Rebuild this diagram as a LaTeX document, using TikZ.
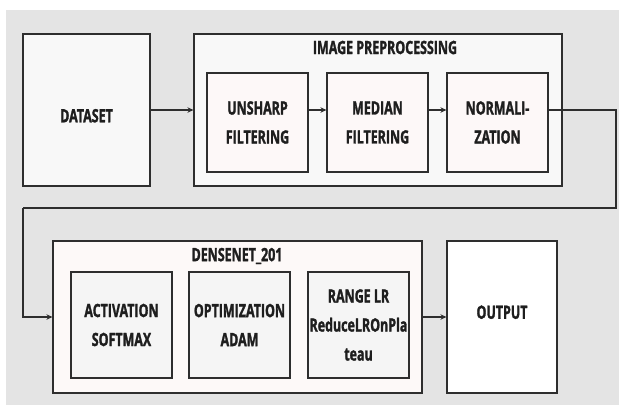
\documentclass[tikz,border=0pt]{standalone}
\usepackage{fontspec}
\setmainfont{Open Sans}[FakeStretch=0.68, FakeBold=1.5]
\usetikzlibrary{arrows.meta}

\definecolor{canvas}{HTML}{E4E4E4}
\definecolor{edge}{HTML}{2E2E2E}
\definecolor{ink}{HTML}{1E1E1E}
\definecolor{panel}{HTML}{F8F8F8}
\definecolor{stage}{HTML}{FDF8F8}
\definecolor{netpanel}{HTML}{FDF9F8}
\definecolor{netcell}{HTML}{F5F5F5}

\tikzset{
  box/.style={draw=edge, line width=1.2pt, inner sep=0pt, align=center,
    font=\fontsize{18.3}{29}\selectfont\bfseries, text=ink},
  bigbox/.style={box, minimum width=#1, minimum height=152pt},
  cell/.style={box, minimum width=101pt, minimum height=#1},
  title/.style={inner sep=0pt, font=\fontsize{18.3}{29}\selectfont\bfseries, text=ink},
  conn/.style={draw=edge, line width=1.2pt},
  arr/.style={conn, -{Stealth[length=6pt,width=5.5pt]}},
}

\begin{document}
\begin{tikzpicture}[x=1pt,y=-1pt]
  % canvas
  \useasboundingbox (0,0) rectangle (619,405);
  \fill[canvas] (6,10) rectangle (619,405);

  % upper row: dataset and preprocessing stages
  \node[bigbox=127pt, fill=panel, text height=24.6pt, text depth=0pt] (dataset) at (86.5,110) {DATASET};
  \node[bigbox=368pt, fill=panel] (prep) at (378,110) {};
  \node[title] (preptitle) at (385,47.5) {IMAGE PREPROCESSING};
  \node[cell=99pt, fill=stage] (unsharp) at (257.5,122.5) {UNSHARP\\FILTERING};
  \node[cell=99pt, fill=stage] (median) at (377.5,122.5) {MEDIAN\\FILTERING};
  \node[cell=99pt, fill=stage] (norm) at (497.5,122.5) {NORMALI-\\ZATION};

  % lower row: network and output
  \node[bigbox=369pt, fill=netpanel] (dense) at (237.5,317) {};
  \node[title] (densetitle) at (237,256) {DENSENET\_201};
  \node[cell=106pt, fill=netcell] (act) at (121.5,325) {ACTIVATION\\SOFTMAX};
  \node[cell=106pt, fill=netcell] (opt) at (239.5,325) {OPTIMIZATION\\ADAM};
  \node[cell=106pt, fill=netcell] (range) at (358.5,325) {RANGE LR\\ReduceLROnPla\\teau};
  \node[bigbox=110pt, fill=white, text height=3.5pt, text depth=0pt] (output) at (502,317) {OUTPUT};

  % connectors
  \coordinate (row) at (0,110);
  \coordinate (turnA) at (616,110);
  \coordinate (turnB) at (616,208);
  \coordinate (turnC) at (23,208);

  \draw[arr] (dataset.east) -- (prep.west);
  \draw[arr] (unsharp.east |- row) -- (median.west |- row);
  \draw[arr] (median.east |- row) -- (norm.west |- row);
  \draw[conn] (norm.east |- row) -- (turnA) -- (turnB) -- (turnC);
  \draw[arr] (turnC) |- (dense.west);
  \draw[arr] (dense.east) -- (output.west);
\end{tikzpicture}
\end{document}
